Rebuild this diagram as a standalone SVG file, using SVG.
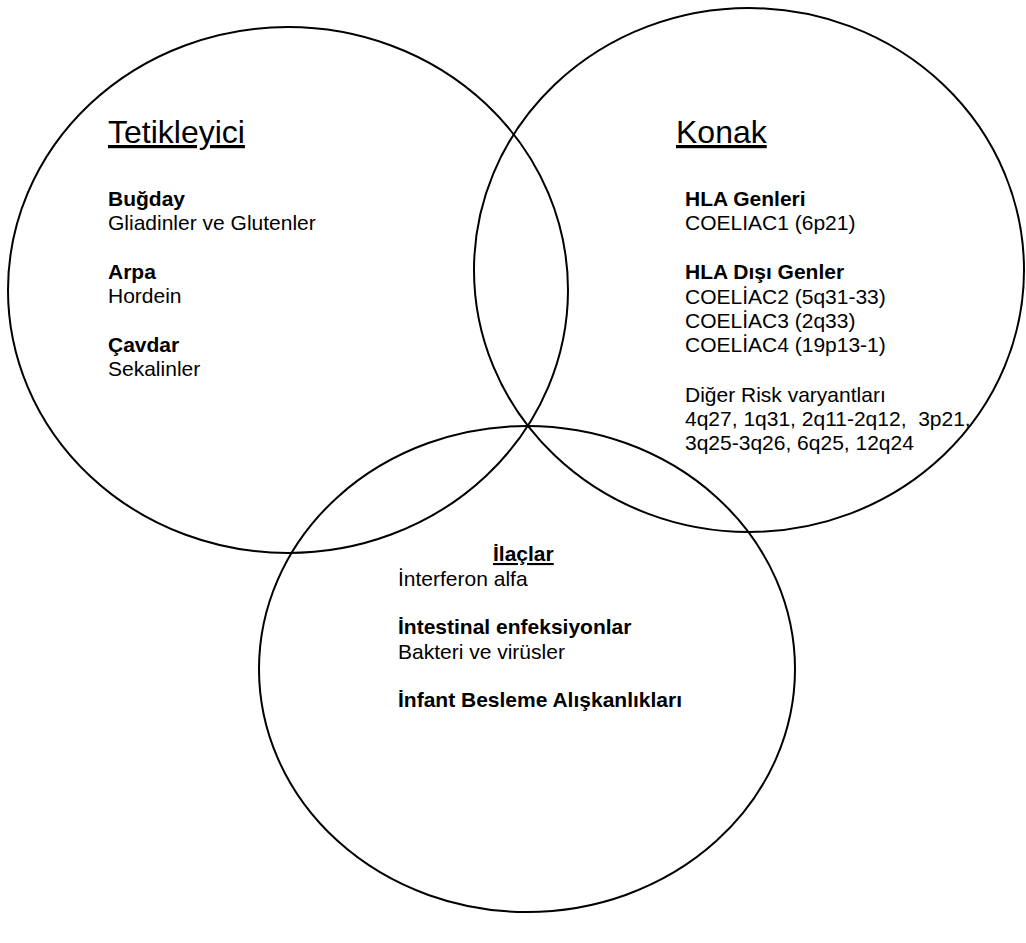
<svg xmlns="http://www.w3.org/2000/svg" width="1026" height="943" viewBox="0 0 1026 943">
<style>
.c{fill:none;stroke:#000;stroke-width:2}
text{font-family:"Liberation Sans",Arial,sans-serif;fill:#000}
.h{font-size:32px;text-decoration:underline}
.b{font-size:21px;font-weight:bold}
.r{font-size:21px}
.u{text-decoration:underline}
</style>
<rect width="1026" height="943" fill="#fff"/>
<g id="tetikleyici">
<ellipse class="c" cx="288" cy="290" rx="280" ry="263"/>
<text class="h" x="108" y="143">Tetikleyici</text>
<text class="b" x="108" y="206">Buğday</text>
<text class="r" x="108" y="230">Gliadinler ve Glutenler</text>
<text class="b" x="108" y="279">Arpa</text>
<text class="r" x="108" y="303">Hordein</text>
<text class="b" x="108" y="352">Çavdar</text>
<text class="r" x="108" y="376">Sekalinler</text>
</g>
<g id="konak">
<ellipse class="c" cx="749" cy="270" rx="275" ry="262"/>
<text class="h" x="676" y="143">Konak</text>
<text class="b" x="685" y="206">HLA Genleri</text>
<text class="r" x="685" y="230">COELIAC1 (6p21)</text>
<text class="b" x="685" y="279">HLA Dışı Genler</text>
<text class="r" x="685" y="304">COELİAC2 (5q31-33)</text>
<text class="r" x="685" y="328">COELİAC3 (2q33)</text>
<text class="r" x="685" y="352">COELİAC4 (19p13-1)</text>
<text class="r" x="685" y="402">Diğer Risk varyantları</text>
<text class="r" x="685" y="426" xml:space="preserve">4q27, 1q31, 2q11-2q12,  3p21,</text>
<text class="r" x="685" y="450">3q25-3q26, 6q25, 12q24</text>
</g>
<g id="cevre">
<ellipse class="c" cx="527" cy="669" rx="268" ry="243"/>
<text class="b u" x="493" y="561">İlaçlar</text>
<text class="r" x="398" y="586">İnterferon alfa</text>
<text class="b" x="398" y="634">İntestinal enfeksiyonlar</text>
<text class="r" x="398" y="659">Bakteri ve virüsler</text>
<text class="b" x="398" y="707">İnfant Besleme Alışkanlıkları</text>
</g>
<g id="connectors"/>
</svg>
